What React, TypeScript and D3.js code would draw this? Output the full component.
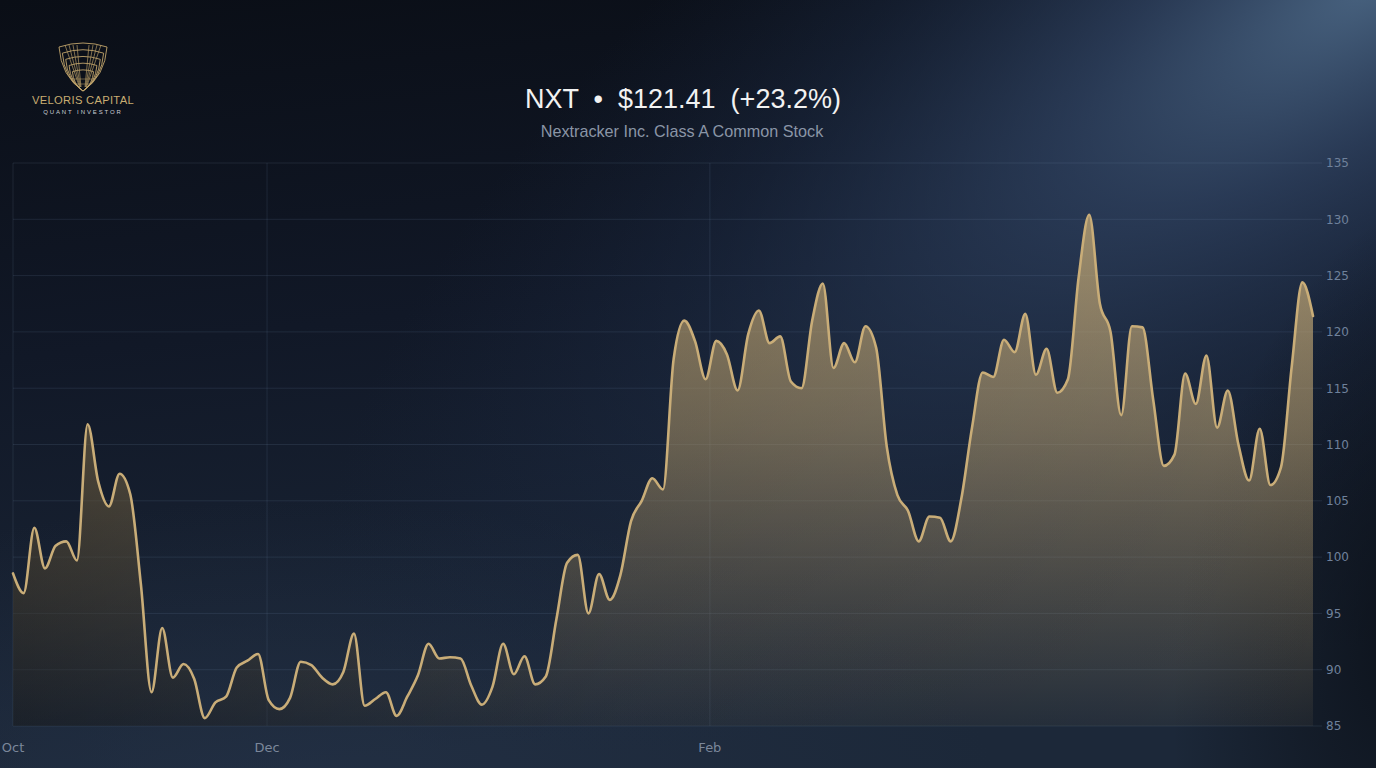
import React from 'react';
import * as d3 from 'd3';

// ---- Data ----
const prices: number[] = [
  98.55, 96.8, 102.6, 99.0, 101.0, 101.4, 99.7, 111.8, 106.7, 104.5,
  107.4, 105.6, 97.6, 88.0, 93.7, 89.3, 90.5, 89.2, 85.7, 87.1,
  87.6, 90.2, 90.8, 91.4, 87.3, 86.5, 87.5, 90.7, 90.4, 89.3,
  88.7, 89.8, 93.2, 86.8, 87.4, 88.0, 85.9, 87.6, 89.5, 92.3,
  91.0, 91.1, 91.0, 88.6, 86.9, 88.5, 92.3, 89.6, 91.2, 88.7,
  89.4, 94.5, 99.5, 100.2, 95.0, 98.5, 96.2, 98.4, 103.2, 105.0,
  107.0, 106.0, 117.6, 121.0, 119.2, 115.8, 119.2, 118.0, 114.8, 119.8,
  121.9, 119.0, 119.6, 115.6, 115.0, 121.0, 124.3, 116.8, 119.0, 117.3,
  120.5, 118.6, 109.8, 105.5, 104.1, 101.4, 103.6, 103.5, 101.4, 105.2,
  111.5, 116.4, 116.0, 119.3, 118.2, 121.6, 116.2, 118.5, 114.6, 115.8,
  124.8, 130.4, 122.5, 120.0, 112.6, 120.5, 120.4, 114.0, 108.1, 109.1,
  116.3, 113.6, 117.9, 111.5, 114.8, 110.0, 106.8, 111.4, 106.4, 108.0,
  116.9, 124.4, 121.41,
];
const yTickValues: number[] = [85, 90, 95, 100, 105, 110, 115, 120, 125, 130, 135];
const monthLabels: string[] = ['Oct', 'Dec', 'Feb'];
const monthIndex: number[] = [0, 23.84, 65.4];
const ticker = 'NXT';
const lastPrice = 121.41;
const changePct = 23.2;
const companyName = 'Nextracker Inc. Class A Common Stock';
const brandName = 'VELORIS CAPITAL';
const brandTag = 'QUANT INVESTOR';

const W = 1376;
const H = 768;
const GOLD = '#c9ad78';

function Shield() {
  // nested shield outlines converging at the bottom point
  const scales = [1, 0.86, 0.72, 0.58, 0.44];
  const shape = 'M -24,-44 Q 0,-52 24,-44 Q 22,-15 0,0 Q -22,-15 -24,-44 Z';
  return (
    <g transform="translate(83,91)">
      {scales.map((s, i) => (
        <path key={i} d={shape} transform={`scale(${s})`} fill="none" stroke="#c2a56c" strokeWidth={1 / s} opacity={0.9} />
      ))}
      {[-1, 1].map((dir) => (
        <g key={dir}>
          {[0, 1, 2, 3].map((k) => (
            <path key={k} d={`M ${dir * (6 + k * 4)},-46 L ${dir * (2 + k * 0.5)},-4`} stroke="#b79c66" strokeWidth={0.9} fill="none" opacity={0.75} />
          ))}
        </g>
      ))}
      <path d="M -10,-12 L 10,-12 M -7,-7 L 7,-7" stroke="#b79c66" strokeWidth={0.8} opacity={0.7} />
    </g>
  );
}

export default function App() {
  const x = d3.scaleLinear().domain([0, prices.length - 1]).range([13, 1313]);
  const y = d3.scaleLinear().domain([85, 135]).range([726, 163]);

  const line = d3
    .line<number>()
    .x((_, i) => x(i))
    .y((d) => y(d))
    .curve(d3.curveMonotoneX);
  const area = d3
    .area<number>()
    .x((_, i) => x(i))
    .y0(y(85))
    .y1((d) => y(d))
    .curve(d3.curveMonotoneX);

  const title = `${ticker}  •  $${lastPrice.toFixed(2)}  (${changePct >= 0 ? '+' : ''}${changePct.toFixed(1)}%)`;

  return (
    <svg
      width={W}
      height={H}
      viewBox={`0 0 ${W} ${H}`}
      style={{ position: 'absolute', left: 0, top: 0, display: 'block' }}
    >
      <defs>
        <linearGradient id="bgBase" x1="0" y1="0" x2="0.2" y2="1">
          <stop offset="0" stopColor="#0a0e16" />
          <stop offset="0.45" stopColor="#111827" />
          <stop offset="1" stopColor="#1c2839" />
        </linearGradient>
        <radialGradient
          id="beam"
          gradientUnits="userSpaceOnUse"
          cx="0"
          cy="0"
          r="1"
          gradientTransform="translate(1390,-30) rotate(146) scale(1250,450)"
        >
          <stop offset="0" stopColor="#4d6987" stopOpacity="0.95" />
          <stop offset="0.3" stopColor="#34496a" stopOpacity="0.7" />
          <stop offset="0.65" stopColor="#223350" stopOpacity="0.35" />
          <stop offset="1" stopColor="#1a2740" stopOpacity="0" />
        </radialGradient>
        <radialGradient
          id="darkCorner"
          gradientUnits="userSpaceOnUse"
          cx="0"
          cy="0"
          r="1"
          gradientTransform="translate(1420,620) rotate(100) scale(440,240)"
        >
          <stop offset="0" stopColor="#070a10" stopOpacity="0.75" />
          <stop offset="1" stopColor="#070a10" stopOpacity="0" />
        </radialGradient>
        <radialGradient
          id="lowLeft"
          gradientUnits="userSpaceOnUse"
          cx="0"
          cy="0"
          r="1"
          gradientTransform="translate(300,800) scale(700,300)"
        >
          <stop offset="0" stopColor="#26344a" stopOpacity="0.6" />
          <stop offset="1" stopColor="#26344a" stopOpacity="0" />
        </radialGradient>
        <linearGradient id="areaFill" gradientUnits="userSpaceOnUse" x1="0" y1={y(133)} x2="0" y2={y(85)}>
          <stop offset="0" stopColor={GOLD} stopOpacity="0.8" />
          <stop offset="0.45" stopColor={GOLD} stopOpacity="0.52" />
          <stop offset="1" stopColor={GOLD} stopOpacity="0.06" />
        </linearGradient>
        <linearGradient id="areaLight" gradientUnits="userSpaceOnUse" x1="0" y1="0" x2={W} y2="0">
          <stop offset="0" stopColor="#000" stopOpacity="0.35" />
          <stop offset="0.45" stopColor="#000" stopOpacity="0.1" />
          <stop offset="1" stopColor="#000" stopOpacity="0" />
        </linearGradient>
      </defs>

      {/* background */}
      <rect x={0} y={0} width={W} height={H} fill="url(#bgBase)" />
      <rect x={0} y={0} width={W} height={H} fill="url(#lowLeft)" />
      <rect x={0} y={0} width={W} height={H} fill="url(#beam)" />
      <rect x={0} y={0} width={W} height={H} fill="url(#darkCorner)" />

      {/* grid */}
      <g>
        {yTickValues.map((v) => (
          <line key={v} x1={13} x2={1322} y1={y(v)} y2={y(v)} stroke="#7f9cc0" strokeOpacity={0.14} strokeWidth={1} />
        ))}
        {monthIndex.map((mi, k) => (
          <line key={k} x1={x(mi)} x2={x(mi)} y1={y(135)} y2={y(85)} stroke="#7f9cc0" strokeOpacity={0.14} strokeWidth={1} />
        ))}
      </g>

      {/* area + line */}
      <path d={area(prices) || ''} fill="url(#areaFill)" />
      <path d={area(prices) || ''} fill="url(#areaLight)" />
      <path d={line(prices) || ''} fill="none" stroke={GOLD} strokeWidth={2.6} strokeLinejoin="round" strokeLinecap="round" />

      {/* y axis labels */}
      <g fontFamily="'DejaVu Sans', sans-serif" fontSize={12} fill="#6f819b">
        {yTickValues.map((v) => (
          <text key={v} x={1326} y={y(v)} dy="0.36em">
            {v}
          </text>
        ))}
      </g>

      {/* x axis labels */}
      <g fontFamily="'DejaVu Sans', sans-serif" fontSize={13} fill="#7b879a" textAnchor="middle">
        {monthLabels.map((m, k) => (
          <text key={m} x={x(monthIndex[k])} y={752}>
            {m}
          </text>
        ))}
      </g>

      {/* title */}
      <text
        x={683}
        y={108}
        textAnchor="middle"
        fontFamily="'Liberation Sans', Arial, sans-serif"
        fontSize={27}
        fill="#f2f2f2"
        style={{ whiteSpace: 'pre' }}
      >
        {title}
      </text>
      <text
        x={682}
        y={137}
        textAnchor="middle"
        fontFamily="'Liberation Sans', Arial, sans-serif"
        fontSize={16.2}
        fill="#8a95a6"
      >
        {companyName}
      </text>

      {/* brand */}
      <Shield />
      <text x={83} y={104} textAnchor="middle" fontFamily="'Liberation Sans', Arial, sans-serif" fontSize={11.2} fill="#c8ad72" letterSpacing={0.3}>
        {brandName}
      </text>
      <text x={83} y={113.5} textAnchor="middle" fontFamily="'Liberation Sans', Arial, sans-serif" fontSize={6} fill="#c9cdd5" letterSpacing={1.9}>
        {brandTag}
      </text>
    </svg>
  );
}
